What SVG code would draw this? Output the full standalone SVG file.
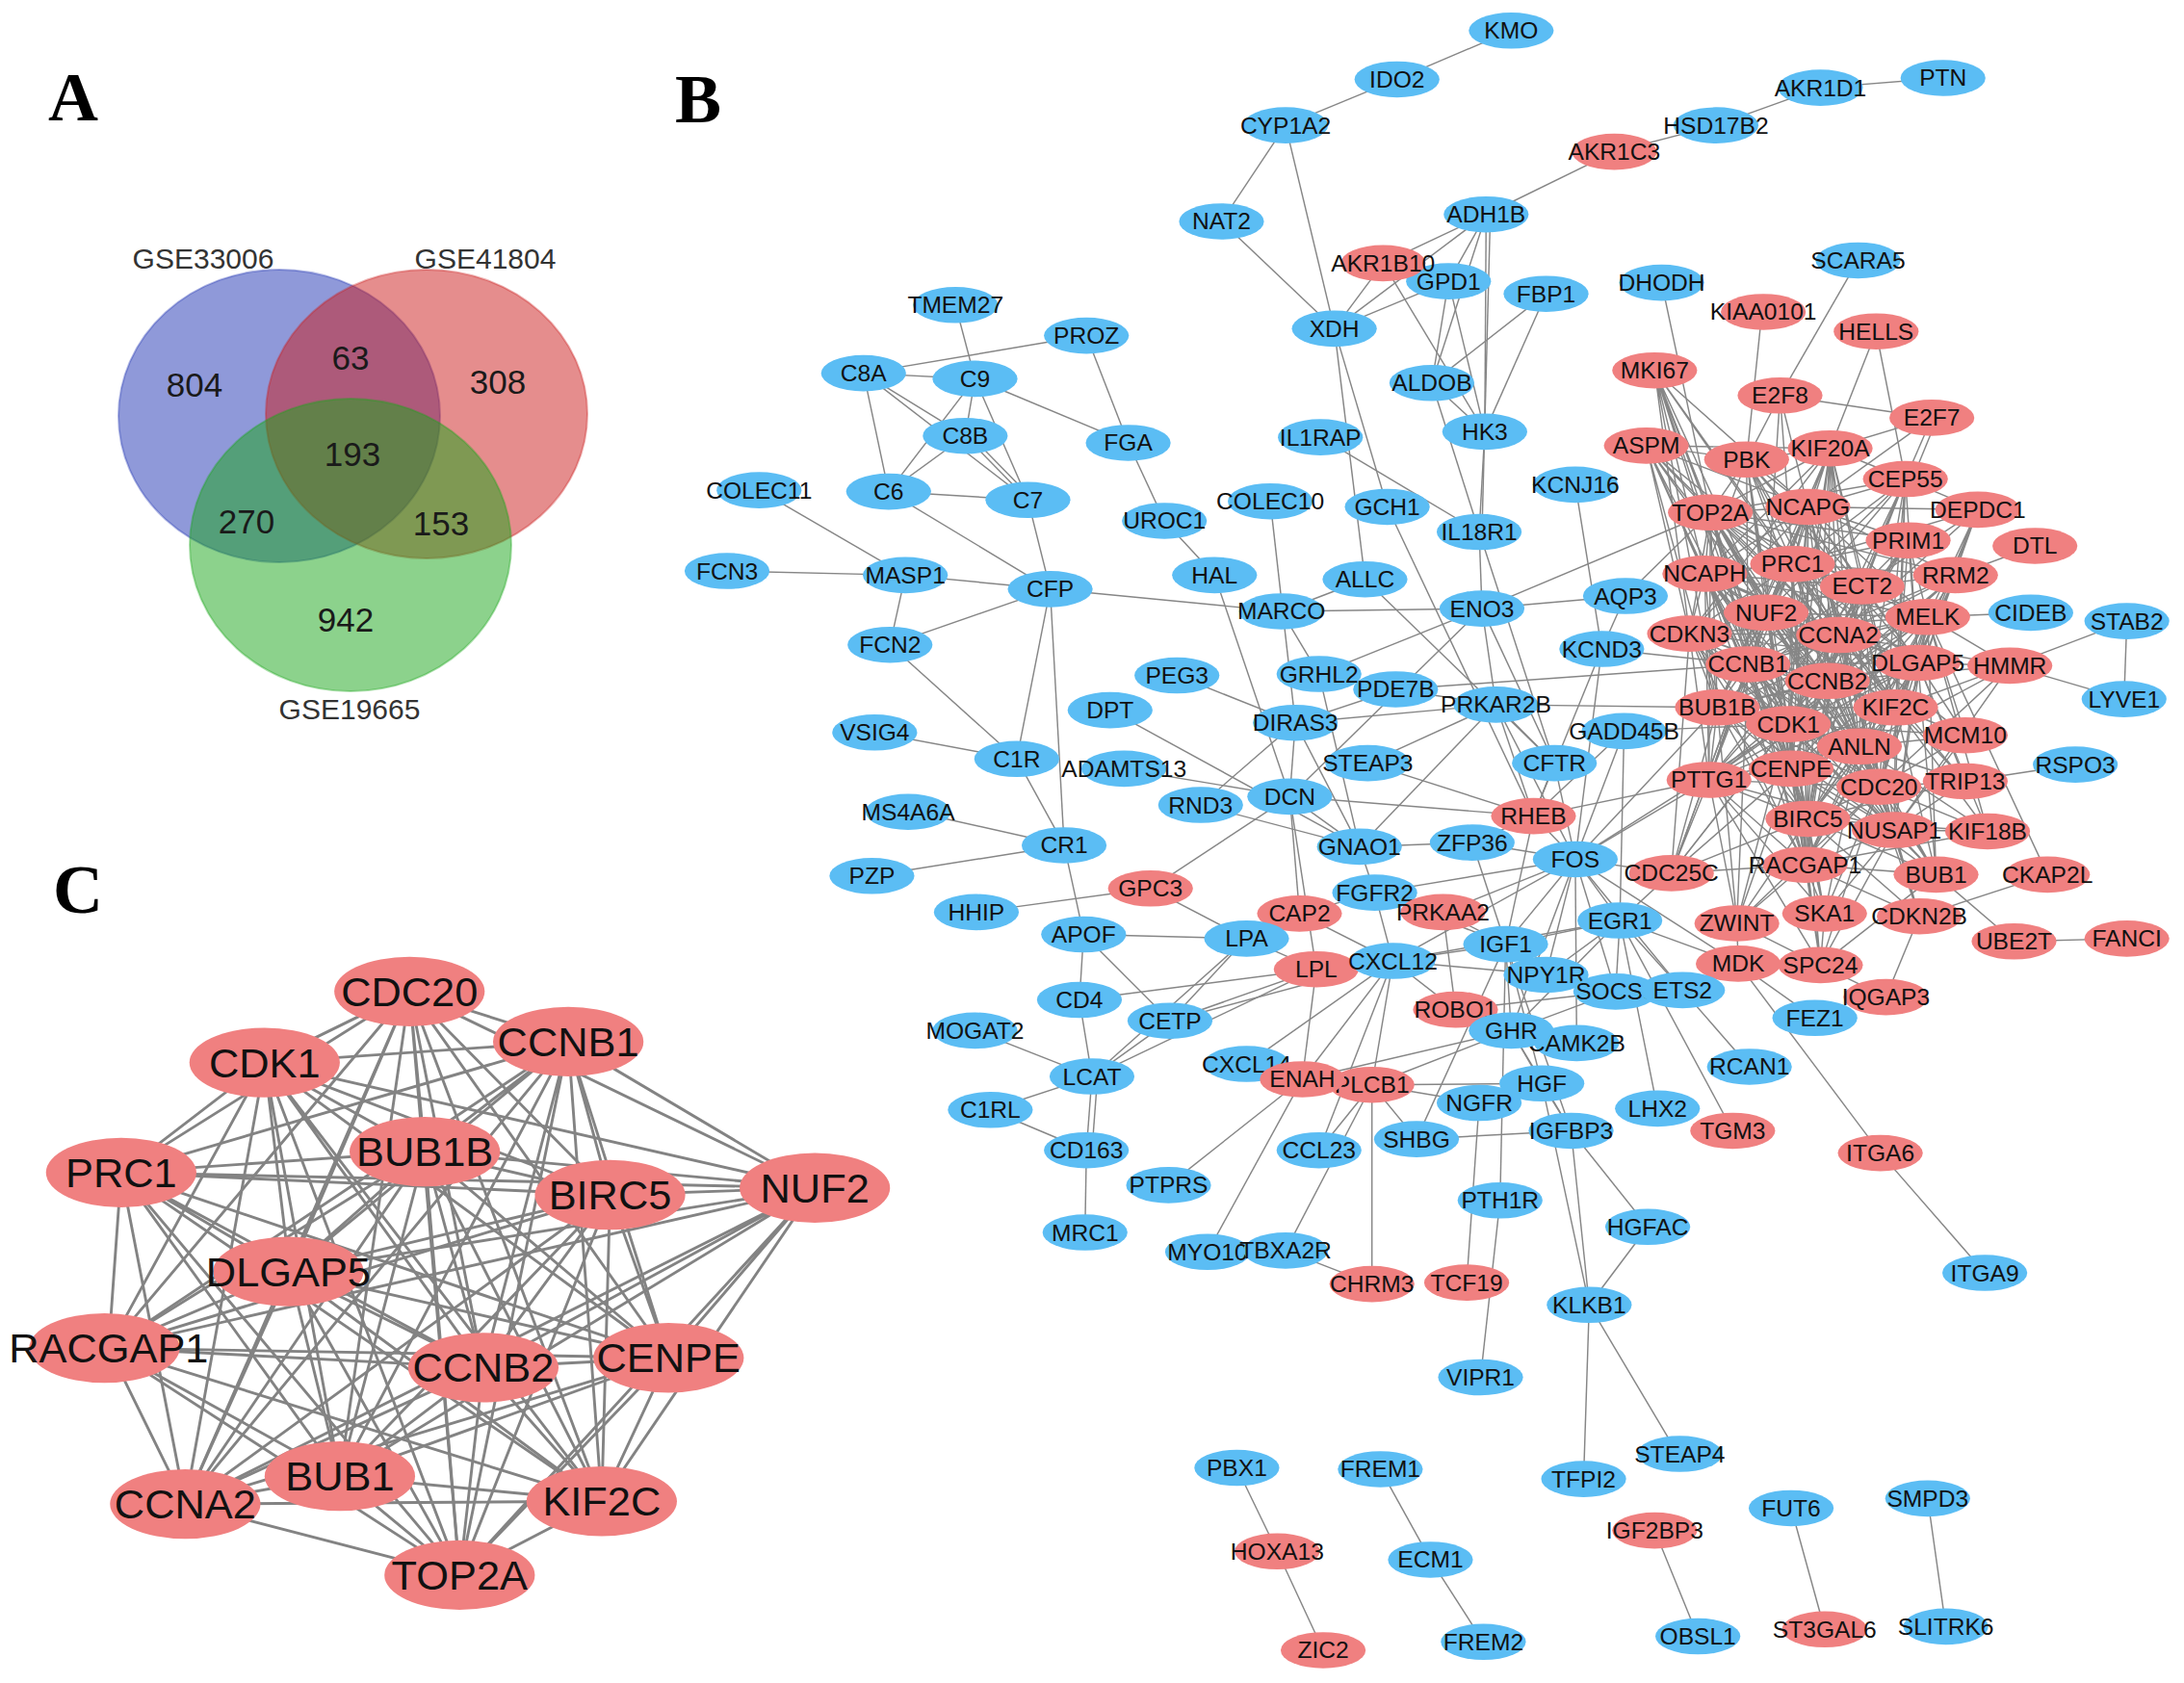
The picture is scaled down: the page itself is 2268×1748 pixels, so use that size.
<svg xmlns="http://www.w3.org/2000/svg" width="2268" height="1748" viewBox="0 0 2268 1748">
<style>
text{font-family:"Liberation Sans",Arial,sans-serif;text-anchor:middle;dominant-baseline:central;fill:#111}
.lab{font-family:"Liberation Serif","Times New Roman",serif;font-weight:bold;font-size:72px;fill:#000}
.vl{font-size:30px;fill:#333}
.vn{font-size:35px;fill:#1a1a1a}
.B text{font-size:17px}
.C text{font-size:30px}
.b ellipse{fill:#5bbdf4}
.r ellipse{fill:#f08080}
.e{stroke:#868686;stroke-width:1;fill:none}
.ce{stroke:#838383;stroke-width:2;fill:none}
</style>
<rect width="2268" height="1748" fill="#fff"/>
<text class="lab" x="76" y="101">A</text>
<text class="lab" x="725" y="103">B</text>
<text class="lab" x="81" y="924">C</text>
<g id="venn">
<ellipse cx="290" cy="432" rx="167" ry="152" fill="#1f33b3" fill-opacity="0.5" stroke="#1f33b3" stroke-opacity="0.35" stroke-width="2"/>
<ellipse cx="443" cy="430" rx="167" ry="150" fill="#cc1c1c" fill-opacity="0.5" stroke="#cc1c1c" stroke-opacity="0.35" stroke-width="2"/>
<ellipse cx="364" cy="566" rx="167" ry="152" fill="#1aa61a" fill-opacity="0.5" stroke="#1aa61a" stroke-opacity="0.35" stroke-width="2"/>
<text class="vl" x="211" y="268">GSE33006</text>
<text class="vl" x="504" y="268">GSE41804</text>
<text class="vl" x="363" y="736">GSE19665</text>
<text class="vn" x="202" y="399">804</text>
<text class="vn" x="364" y="371">63</text>
<text class="vn" x="517" y="396">308</text>
<text class="vn" x="366" y="471">193</text>
<text class="vn" x="256" y="541">270</text>
<text class="vn" x="458" y="543">153</text>
<text class="vn" x="359" y="643">942</text>
</g>
<g transform="scale(1.4464)">
<g id="edges-C" class="ce">
<path d="M294 712L408 748 294 712 190 763 294 712 305 827 294 712 87 842 294 712 438 858 294 712 585 853 294 712 208 913 294 712 78 968 294 712 347 982 294 712 480 975 294 712 244 1060 294 712 133 1080 294 712 432 1078 294 712 330 1131"/>
<path d="M408 748L190 763 408 748 305 827 408 748 87 842 408 748 438 858 408 748 585 853 408 748 208 913 408 748 78 968 408 748 347 982 408 748 480 975 408 748 244 1060 408 748 133 1080 408 748 432 1078 408 748 330 1131"/>
<path d="M190 763L305 827 190 763 87 842 190 763 438 858 190 763 585 853 190 763 208 913 190 763 78 968 190 763 347 982 190 763 480 975 190 763 244 1060 190 763 133 1080 190 763 432 1078 190 763 330 1131"/>
<path d="M305 827L87 842 305 827 438 858 305 827 585 853 305 827 208 913 305 827 78 968 305 827 347 982 305 827 480 975 305 827 244 1060 305 827 133 1080 305 827 432 1078 305 827 330 1131"/>
<path d="M87 842L438 858 87 842 585 853 87 842 208 913 87 842 78 968 87 842 347 982 87 842 480 975 87 842 244 1060 87 842 133 1080 87 842 432 1078 87 842 330 1131"/>
<path d="M438 858L585 853 438 858 208 913 438 858 78 968 438 858 347 982 438 858 480 975 438 858 244 1060 438 858 133 1080 438 858 432 1078 438 858 330 1131"/>
<path d="M585 853L208 913 585 853 78 968 585 853 347 982 585 853 480 975 585 853 244 1060 585 853 133 1080 585 853 432 1078 585 853 330 1131"/>
<path d="M208 913L78 968 208 913 347 982 208 913 480 975 208 913 244 1060 208 913 133 1080 208 913 432 1078 208 913 330 1131"/>
<path d="M78 968L347 982 78 968 480 975 78 968 244 1060 78 968 133 1080 78 968 432 1078 78 968 330 1131"/>
<path d="M347 982L480 975 347 982 244 1060 347 982 133 1080 347 982 432 1078 347 982 330 1131"/>
<path d="M480 975L244 1060 480 975 133 1080 480 975 432 1078 480 975 330 1131"/>
<path d="M244 1060L133 1080 244 1060 432 1078 244 1060 330 1131"/>
<path d="M133 1080L432 1078 133 1080 330 1131M432 1078L330 1131"/>
</g>
<g id="edges-B" class="e">
<path d="M1085 22 1003 57"/><path d="M1003 57 923 90"/><path d="M923 90 877 159"/><path d="M923 90 958 236"/><path d="M877 159 958 236"/>
<path d="M1395 56 1307 63"/><path d="M1307 63 1232 90"/><path d="M1232 90 1159 109"/><path d="M1159 109 1067 154"/>
<path d="M1067 154 993 189"/><path d="M1067 154 958 236"/><path d="M1067 154 1040 202"/><path d="M1067 154 1028 275"/><path d="M1067 154 1066 310"/><path d="M1070 154 1064 382"/>
<path d="M993 189 958 236"/><path d="M1040 202 958 236"/><path d="M993 189 1066 310"/><path d="M1040 202 1028 275"/><path d="M1040 202 1066 310"/>
<path d="M1110 211 1028 275"/><path d="M1110 211 1066 310"/><path d="M1028 275 1066 310"/><path d="M958 236 996 364"/><path d="M958 236 980 416"/>
<path d="M1028 275 1062 382"/><path d="M1066 310 1062 382"/><path d="M948 314 1062 382"/><path d="M1193 203 1228 368"/><path d="M1265 224 1254 330"/>
<path d="M1334 187 1278 284"/><path d="M1347 238 1314 322"/><path d="M1347 238 1368 344"/><path d="M1278 284 1387 300"/><path d="M1278 284 1298 364"/>
<path d="M1278 284 1254 330"/><path d="M1278 284 1287 405"/><path d="M1278 284 1268 440"/><path d="M1387 300 1368 344"/><path d="M1391 300 1373 344"/>
<path d="M1387 300 1298 364"/><path d="M1387 300 1314 322"/>
<path d="M686 219 700 272"/><path d="M780 241 620 268"/><path d="M780 241 810 318"/><path d="M620 268 700 272"/><path d="M620 268 693 313"/>
<path d="M620 268 738 359"/><path d="M620 268 638 353"/><path d="M700 272 693 313"/><path d="M700 272 638 353"/><path d="M700 272 738 359"/>
<path d="M700 272 810 318"/><path d="M693 313 638 353"/><path d="M693 313 738 359"/><path d="M697 313 742 359"/><path d="M638 353 738 359"/><path d="M638 353 754 423"/>
<path d="M738 359 754 423"/><path d="M810 318 836 374"/><path d="M836 374 872 413"/><path d="M545 352 650 413"/><path d="M522 410 650 413"/>
<path d="M650 413 754 423"/><path d="M650 413 639 463"/><path d="M639 463 754 423"/><path d="M639 463 730 545"/><path d="M754 423 730 545"/>
<path d="M754 423 764 607"/><path d="M754 423 920 439"/><path d="M628 526 730 545"/><path d="M730 545 764 607"/><path d="M652 582 764 607"/>
<path d="M626 629 764 607"/><path d="M764 607 778 671"/><path d="M701 655 826 638"/><path d="M826 638 895 674"/><path d="M826 638 926 572"/>
<path d="M778 671 895 674"/><path d="M778 671 775 718"/><path d="M778 671 840 733"/><path d="M775 718 784 773"/><path d="M775 718 945 696"/>
<path d="M840 733 784 773"/><path d="M840 733 895 674"/><path d="M840 733 945 696"/><path d="M840 733 1000 690"/><path d="M700 740 784 773"/>
<path d="M711 797 784 773"/><path d="M784 773 780 826"/><path d="M788 773 784 826"/><path d="M784 773 895 674"/><path d="M784 773 945 696"/>
<path d="M711 797 780 826"/><path d="M780 826 779 885"/><path d="M872 413 926 572"/><path d="M920 439 980 416"/><path d="M920 439 1064 437"/>
<path d="M920 439 947 484"/><path d="M912 360 930 519"/><path d="M845 485 930 519"/><path d="M797 510 976 608"/><path d="M806 552 926 572"/>
<path d="M862 578 976 608"/><path d="M862 578 930 519"/><path d="M930 519 1002 495"/><path d="M930 519 1074 506"/><path d="M930 519 926 572"/>
<path d="M930 519 976 608"/><path d="M947 484 1064 437"/><path d="M947 484 976 608"/><path d="M982 548 1074 506"/><path d="M982 548 1101 586"/>
<path d="M926 572 1101 586"/><path d="M926 572 976 608"/><path d="M926 572 933 656"/><path d="M926 572 945 696"/><path d="M976 608 1057 605"/>
<path d="M976 608 987 641"/><path d="M976 608 1074 506"/><path d="M987 641 933 656"/><path d="M987 641 1036 655"/><path d="M987 641 1000 690"/>
<path d="M987 641 1081 678"/><path d="M987 641 1131 617"/><path d="M895 674 945 696"/><path d="M895 674 933 656"/><path d="M1000 690 1081 678"/>
<path d="M1000 690 945 696"/><path d="M1000 690 1045 725"/><path d="M1000 690 935 775"/><path d="M1000 690 985 779"/><path d="M1000 690 895 764"/>
<path d="M1000 690 1110 700"/><path d="M1000 690 1163 661"/><path d="M1000 690 1131 617"/><path d="M1081 678 1128 812"/><path d="M1081 678 1085 740"/>
<path d="M1081 678 1163 661"/><path d="M1081 678 1131 617"/><path d="M1081 678 1107 778"/><path d="M1081 678 1160 712"/><path d="M1081 678 1077 862"/>
<path d="M1081 678 1036 655"/><path d="M1085 740 1160 712"/><path d="M1085 740 1128 812"/><path d="M1085 740 1107 778"/><path d="M1085 740 935 775"/>
<path d="M1085 740 985 779"/><path d="M1107 778 1062 792"/><path d="M1107 778 1128 812"/><path d="M1107 778 985 779"/><path d="M1128 812 1017 818"/>
<path d="M1128 812 1141 937"/><path d="M1128 812 1183 881"/><path d="M1183 881 1141 937"/><path d="M1141 937 1137 1061"/><path d="M1141 937 1204 1043"/>
<path d="M1107 778 1141 937"/><path d="M1077 862 1063 989"/><path d="M1062 792 1053 921"/><path d="M985 779 985 922"/><path d="M923 898 985 922"/>
<path d="M923 898 985 779"/><path d="M867 899 935 775"/><path d="M839 851 935 775"/><path d="M947 826 1000 690"/><path d="M1017 818 985 779"/>
<path d="M1017 818 1081 678"/><path d="M1190 796 1163 661"/><path d="M1256 766 1208 711"/><path d="M1244 812 1163 661"/><path d="M1350 828 1248 692"/>
<path d="M1350 828 1425 914"/><path d="M1303 731 1248 692"/><path d="M1354 716 1378 658"/><path d="M1354 716 1307 693"/><path d="M1248 692 1307 693"/>
<path d="M1248 692 1163 661"/><path d="M1248 692 1131 617"/><path d="M1248 692 1247 663"/><path d="M1446 676 1527 674"/><path d="M1446 676 1390 628"/>
<path d="M1470 628 1378 658"/><path d="M1470 628 1384 443"/><path d="M1443 478 1527 446"/><path d="M1443 478 1525 502"/><path d="M1527 446 1525 502"/>
<path d="M1384 443 1458 440"/><path d="M1411 561 1490 549"/><path d="M1404 413 1461 392"/><path d="M1131 348 1150 466"/><path d="M1167 428 1064 437"/>
<path d="M1167 428 1150 466"/><path d="M1167 428 1228 368"/><path d="M1064 437 1228 368"/><path d="M1062 382 1064 437"/><path d="M1062 382 1116 548"/>
<path d="M996 364 1101 586"/><path d="M980 416 1116 548"/><path d="M1064 437 1074 506"/><path d="M1064 437 1116 548"/><path d="M1064 437 926 572"/>
<path d="M1150 466 1131 617"/><path d="M1150 466 1255 477"/><path d="M1150 466 1101 586"/><path d="M1166 525 1131 617"/><path d="M1166 525 1101 586"/>
<path d="M1166 525 1284 520"/><path d="M1166 525 1163 661"/><path d="M1074 506 1116 548"/><path d="M1074 506 1233 508"/><path d="M1074 506 1101 586"/>
<path d="M1074 506 1131 617"/><path d="M1074 506 1002 495"/><path d="M1002 495 1255 477"/><path d="M1116 548 1101 586"/><path d="M1116 548 1131 617"/>
<path d="M1101 586 1131 617"/><path d="M1101 586 1227 560"/><path d="M1101 586 1081 678"/><path d="M1101 586 1057 605"/><path d="M1131 617 1163 661"/>
<path d="M1131 617 1200 627"/><path d="M1131 617 1057 605"/><path d="M1131 617 1085 740"/><path d="M1131 617 1208 711"/><path d="M1131 617 1160 712"/>
<path d="M1131 617 1110 700"/><path d="M1131 617 1227 560"/><path d="M1131 617 1233 508"/><path d="M1131 617 1284 520"/><path d="M1163 661 1208 711"/>
<path d="M1163 661 1200 627"/><path d="M1163 661 1160 712"/><path d="M1163 661 1085 740"/><path d="M1163 661 1110 700"/><path d="M1200 627 1284 520"/>
<path d="M1200 627 1255 477"/><path d="M1057 605 1081 678"/><path d="M933 656 1000 690"/><path d="M1036 655 1131 617"/><path d="M1036 655 1045 725"/>
<path d="M1045 725 1160 712"/><path d="M985 779 1062 792"/><path d="M935 775 945 696"/><path d="M947 826 985 779"/><path d="M1160 712 1208 711"/>
<path d="M1132 749 1131 617"/><path d="M888 1054 917 1114"/><path d="M917 1114 950 1185"/><path d="M991 1055 1027 1120"/><path d="M1027 1120 1065 1179"/>
<path d="M1188 1099 1219 1175"/><path d="M1286 1083 1310 1170"/><path d="M1384 1076 1397 1168"/>
<path d="M1228 368L1298 364 1228 368 1287 405 1228 368 1224 412 1228 368 1337 421 1228 368 1268 440 1228 368 1320 456 1228 368 1213 455 1228 368 1255 477 1228 368 1377 476 1228 368 1312 489 1228 368 1361 508 1228 368 1233 508 1228 368 1284 520 1228 368 1335 536 1228 368 1286 552 1228 368 1349 565 1228 368 1298 588 1228 368 1360 596 1228 368 1296 621 1228 368 1227 560 1228 368 1384 443"/>
<path d="M1298 364L1287 405 1298 364 1224 412 1298 364 1337 421 1298 364 1268 440 1298 364 1320 456 1298 364 1213 455 1298 364 1255 477 1298 364 1377 476 1298 364 1312 489 1298 364 1361 508 1298 364 1233 508 1298 364 1284 520 1298 364 1335 536 1298 364 1286 552 1298 364 1349 565 1298 364 1298 588 1298 364 1360 596 1298 364 1296 621 1298 364 1227 560 1298 364 1384 443"/>
<path d="M1287 405L1224 412 1287 405 1337 421 1287 405 1268 440 1287 405 1320 456 1287 405 1213 455 1287 405 1255 477 1287 405 1377 476 1287 405 1312 489 1287 405 1361 508 1287 405 1233 508 1287 405 1284 520 1287 405 1335 536 1287 405 1286 552 1287 405 1349 565 1287 405 1298 588 1287 405 1360 596 1287 405 1296 621 1287 405 1227 560 1287 405 1384 443"/>
<path d="M1224 412L1337 421 1224 412 1268 440 1224 412 1320 456 1224 412 1213 455 1224 412 1255 477 1224 412 1377 476 1224 412 1312 489 1224 412 1361 508 1224 412 1233 508 1224 412 1284 520 1224 412 1335 536 1224 412 1286 552 1224 412 1349 565 1224 412 1298 588 1224 412 1360 596 1224 412 1296 621 1224 412 1227 560 1224 412 1384 443"/>
<path d="M1337 421L1268 440 1337 421 1320 456 1337 421 1213 455 1337 421 1255 477 1337 421 1377 476 1337 421 1312 489 1337 421 1361 508 1337 421 1233 508 1337 421 1284 520 1337 421 1335 536 1337 421 1286 552 1337 421 1349 565 1337 421 1298 588 1337 421 1360 596 1337 421 1296 621 1337 421 1227 560 1337 421 1384 443"/>
<path d="M1268 440L1320 456 1268 440 1213 455 1268 440 1255 477 1268 440 1377 476 1268 440 1312 489 1268 440 1361 508 1268 440 1233 508 1268 440 1284 520 1268 440 1335 536 1268 440 1286 552 1268 440 1349 565 1268 440 1298 588 1268 440 1360 596 1268 440 1296 621 1268 440 1227 560 1268 440 1384 443"/>
<path d="M1320 456L1213 455 1320 456 1255 477 1320 456 1377 476 1320 456 1312 489 1320 456 1361 508 1320 456 1233 508 1320 456 1284 520 1320 456 1335 536 1320 456 1286 552 1320 456 1349 565 1320 456 1298 588 1320 456 1360 596 1320 456 1296 621 1320 456 1227 560 1320 456 1384 443"/>
<path d="M1213 455L1255 477 1213 455 1377 476 1213 455 1312 489 1213 455 1361 508 1213 455 1233 508 1213 455 1284 520 1213 455 1335 536 1213 455 1286 552 1213 455 1349 565 1213 455 1298 588 1213 455 1360 596 1213 455 1296 621 1213 455 1227 560 1213 455 1384 443"/>
<path d="M1255 477L1377 476 1255 477 1312 489 1255 477 1361 508 1255 477 1233 508 1255 477 1284 520 1255 477 1335 536 1255 477 1286 552 1255 477 1349 565 1255 477 1298 588 1255 477 1360 596 1255 477 1296 621 1255 477 1227 560 1255 477 1384 443"/>
<path d="M1377 476L1312 489 1377 476 1361 508 1377 476 1233 508 1377 476 1284 520 1377 476 1335 536 1377 476 1286 552 1377 476 1349 565 1377 476 1298 588 1377 476 1360 596 1377 476 1296 621 1377 476 1227 560 1377 476 1384 443"/>
<path d="M1312 489L1361 508 1312 489 1233 508 1312 489 1284 520 1312 489 1335 536 1312 489 1286 552 1312 489 1349 565 1312 489 1298 588 1312 489 1360 596 1312 489 1296 621 1312 489 1227 560 1312 489 1384 443"/>
<path d="M1361 508L1233 508 1361 508 1284 520 1361 508 1335 536 1361 508 1286 552 1361 508 1349 565 1361 508 1298 588 1361 508 1360 596 1361 508 1296 621 1361 508 1227 560 1361 508 1384 443"/>
<path d="M1233 508L1284 520 1233 508 1335 536 1233 508 1286 552 1233 508 1349 565 1233 508 1298 588 1233 508 1360 596 1233 508 1296 621 1233 508 1227 560 1233 508 1384 443"/>
<path d="M1284 520L1335 536 1284 520 1286 552 1284 520 1349 565 1284 520 1298 588 1284 520 1360 596 1284 520 1296 621 1284 520 1227 560 1284 520 1384 443"/>
<path d="M1335 536L1286 552 1335 536 1349 565 1335 536 1298 588 1335 536 1360 596 1335 536 1296 621 1335 536 1227 560 1335 536 1384 443"/>
<path d="M1286 552L1349 565 1286 552 1298 588 1286 552 1360 596 1286 552 1296 621 1286 552 1227 560 1286 552 1384 443"/>
<path d="M1349 565L1298 588 1349 565 1360 596 1349 565 1296 621 1349 565 1227 560 1349 565 1384 443"/>
<path d="M1298 588L1360 596 1298 588 1296 621 1298 588 1227 560 1298 588 1384 443M1360 596L1296 621 1360 596 1227 560 1360 596 1384 443M1296 621L1227 560 1296 621 1384 443M1227 560L1384 443"/>
<path d="M1188 266L1228 368 1188 266 1298 364 1188 266 1287 405 1188 266 1224 412 1188 266 1268 440 1188 266 1320 456 1188 266 1213 455 1188 266 1255 477 1188 266 1233 508 1188 266 1284 520 1188 266 1286 552"/>
<path d="M1182 320L1228 368 1182 320 1298 364 1182 320 1287 405 1182 320 1224 412 1182 320 1268 440 1182 320 1320 456 1182 320 1213 455 1182 320 1255 477 1182 320 1312 489 1182 320 1233 508 1182 320 1284 520 1182 320 1286 552 1182 320 1254 330 1182 320 1314 322"/>
<path d="M1254 330L1228 368 1254 330 1298 364 1254 330 1287 405 1254 330 1224 412 1254 330 1337 421 1254 330 1268 440 1254 330 1320 456 1254 330 1255 477 1254 330 1377 476 1254 330 1312 489 1254 330 1361 508 1254 330 1284 520 1254 330 1286 552 1254 330 1314 322"/>
<path d="M1314 322L1228 368 1314 322 1298 364 1314 322 1287 405 1314 322 1224 412 1314 322 1337 421 1314 322 1268 440 1314 322 1320 456 1314 322 1213 455 1314 322 1255 477 1314 322 1312 489 1314 322 1361 508 1314 322 1233 508 1314 322 1284 520 1314 322 1335 536 1314 322 1286 552 1314 322 1349 565 1314 322 1298 588"/>
<path d="M1368 344L1228 368 1368 344 1298 364 1368 344 1287 405 1368 344 1337 421 1368 344 1268 440 1368 344 1320 456 1368 344 1255 477 1368 344 1377 476 1368 344 1312 489 1368 344 1361 508 1368 344 1284 520 1368 344 1335 536 1368 344 1286 552 1368 344 1349 565 1368 344 1360 596 1368 344 1314 322 1368 344 1420 366"/>
<path d="M1420 366L1298 364 1420 366 1287 405 1420 366 1337 421 1420 366 1320 456 1420 366 1377 476 1420 366 1361 508 1420 366 1349 565 1420 366 1384 443"/>
<path d="M1370 388L1228 368 1370 388 1298 364 1370 388 1287 405 1370 388 1337 421 1370 388 1320 456 1370 388 1377 476 1370 388 1312 489 1370 388 1361 508 1370 388 1284 520 1370 388 1384 443"/>
<path d="M1404 413L1228 368 1404 413 1298 364 1404 413 1287 405 1404 413 1337 421 1404 413 1320 456 1404 413 1255 477 1404 413 1377 476 1404 413 1312 489 1404 413 1361 508 1404 413 1284 520 1404 413 1349 565 1404 413 1384 443"/>
<path d="M1443 478L1320 456 1443 478 1377 476 1443 478 1312 489 1443 478 1361 508 1443 478 1335 536 1443 478 1349 565 1443 478 1360 596 1443 478 1384 443"/>
<path d="M1411 528L1320 456 1411 528 1377 476 1411 528 1312 489 1411 528 1361 508 1411 528 1284 520 1411 528 1335 536 1411 528 1349 565 1411 528 1360 596 1411 528 1384 443"/>
<path d="M1411 561L1320 456 1411 561 1377 476 1411 561 1361 508 1411 561 1284 520 1411 561 1335 536 1411 561 1349 565 1411 561 1298 588 1411 561 1360 596"/>
<path d="M1427 597L1377 476 1427 597 1361 508 1427 597 1335 536 1427 597 1349 565 1427 597 1298 588 1427 597 1360 596 1427 597 1296 621 1427 597 1384 443"/>
<path d="M1390 628L1377 476 1390 628 1312 489 1390 628 1361 508 1390 628 1284 520 1390 628 1335 536 1390 628 1286 552 1390 628 1349 565 1390 628 1298 588 1390 628 1360 596 1390 628 1296 621 1390 628 1384 443"/>
<path d="M1247 663L1255 477 1247 663 1233 508 1247 663 1284 520 1247 663 1286 552 1247 663 1349 565 1247 663 1298 588 1247 663 1296 621 1247 663 1227 560"/>
<path d="M1310 656L1284 520 1310 656 1335 536 1310 656 1286 552 1310 656 1349 565 1310 656 1298 588 1310 656 1360 596 1310 656 1296 621 1310 656 1227 560"/>
<path d="M1378 658L1335 536 1378 658 1349 565 1378 658 1298 588 1378 658 1360 596 1378 658 1296 621"/>
<path d="M1307 693L1284 520 1307 693 1286 552 1307 693 1349 565 1307 693 1298 588 1307 693 1360 596 1307 693 1296 621 1307 693 1227 560 1307 693 1247 663 1307 693 1310 656 1307 693 1390 628"/>
<path d="M1200 627L1213 455 1200 627 1255 477 1200 627 1233 508 1200 627 1284 520 1200 627 1286 552 1200 627 1298 588 1200 627 1296 621 1200 627 1227 560"/>
</g>
<g class="C">
<g id="c-CDC20" class="r"><ellipse cx="294" cy="712" rx="54" ry="25"/><text x="294" y="712">CDC20</text></g>
<g id="c-CCNB1" class="r"><ellipse cx="408" cy="748" rx="54" ry="25"/><text x="408" y="748">CCNB1</text></g>
<g id="c-CDK1" class="r"><ellipse cx="190" cy="763" rx="54" ry="25"/><text x="190" y="763">CDK1</text></g>
<g id="c-BUB1B" class="r"><ellipse cx="305" cy="827" rx="54" ry="25"/><text x="305" y="827">BUB1B</text></g>
<g id="c-PRC1" class="r"><ellipse cx="87" cy="842" rx="54" ry="25"/><text x="87" y="842">PRC1</text></g>
<g id="c-BIRC5" class="r"><ellipse cx="438" cy="858" rx="54" ry="25"/><text x="438" y="858">BIRC5</text></g>
<g id="c-NUF2" class="r"><ellipse cx="585" cy="853" rx="54" ry="25"/><text x="585" y="853">NUF2</text></g>
<g id="c-DLGAP5" class="r"><ellipse cx="207" cy="913" rx="54" ry="25"/><text x="207" y="913">DLGAP5</text></g>
<g id="c-RACGAP1" class="r"><ellipse cx="75" cy="968" rx="54" ry="25"/><text x="78" y="968">RACGAP1</text></g>
<g id="c-CCNB2" class="r"><ellipse cx="347" cy="982" rx="54" ry="25"/><text x="347" y="982">CCNB2</text></g>
<g id="c-CENPE" class="r"><ellipse cx="480" cy="975" rx="54" ry="25"/><text x="480" y="975">CENPE</text></g>
<g id="c-BUB1" class="r"><ellipse cx="244" cy="1060" rx="54" ry="25"/><text x="244" y="1060">BUB1</text></g>
<g id="c-CCNA2" class="r"><ellipse cx="133" cy="1080" rx="54" ry="25"/><text x="133" y="1080">CCNA2</text></g>
<g id="c-KIF2C" class="r"><ellipse cx="432" cy="1078" rx="54" ry="25"/><text x="432" y="1078">KIF2C</text></g>
<g id="c-TOP2A" class="r"><ellipse cx="330" cy="1131" rx="54" ry="25"/><text x="330" y="1131">TOP2A</text></g>
</g>
<g class="B">
<g id="n-KMO" class="b"><ellipse cx="1085" cy="22" rx="30.5" ry="13"/><text x="1085" y="22">KMO</text></g>
<g id="n-IDO2" class="b"><ellipse cx="1003" cy="57" rx="30.5" ry="13"/><text x="1003" y="57">IDO2</text></g>
<g id="n-AKR1D1" class="b"><ellipse cx="1307" cy="63" rx="30.5" ry="13"/><text x="1307" y="63">AKR1D1</text></g>
<g id="n-PTN" class="b"><ellipse cx="1395" cy="56" rx="30.5" ry="13"/><text x="1395" y="56">PTN</text></g>
<g id="n-CYP1A2" class="b"><ellipse cx="923" cy="90" rx="30.5" ry="13"/><text x="923" y="90">CYP1A2</text></g>
<g id="n-HSD17B2" class="b"><ellipse cx="1232" cy="90" rx="30.5" ry="13"/><text x="1232" y="90">HSD17B2</text></g>
<g id="n-AKR1C3" class="r"><ellipse cx="1159" cy="109" rx="30.5" ry="13"/><text x="1159" y="109">AKR1C3</text></g>
<g id="n-NAT2" class="b"><ellipse cx="877" cy="159" rx="30.5" ry="13"/><text x="877" y="159">NAT2</text></g>
<g id="n-ADH1B" class="b"><ellipse cx="1067" cy="154" rx="30.5" ry="13"/><text x="1067" y="154">ADH1B</text></g>
<g id="n-GPD1" class="b"><ellipse cx="1040" cy="202" rx="30.5" ry="13"/><text x="1040" y="202">GPD1</text></g>
<g id="n-AKR1B10" class="r"><ellipse cx="993" cy="189" rx="30.5" ry="13"/><text x="993" y="189">AKR1B10</text></g>
<g id="n-FBP1" class="b"><ellipse cx="1110" cy="211" rx="30.5" ry="13"/><text x="1110" y="211">FBP1</text></g>
<g id="n-DHODH" class="b"><ellipse cx="1193" cy="203" rx="30.5" ry="13"/><text x="1193" y="203">DHODH</text></g>
<g id="n-SCARA5" class="b"><ellipse cx="1334" cy="187" rx="30.5" ry="13"/><text x="1334" y="187">SCARA5</text></g>
<g id="n-KIAA0101" class="r"><ellipse cx="1266" cy="224" rx="30.5" ry="13"/><text x="1266" y="224">KIAA0101</text></g>
<g id="n-HELLS" class="r"><ellipse cx="1347" cy="238" rx="30.5" ry="13"/><text x="1347" y="238">HELLS</text></g>
<g id="n-XDH" class="b"><ellipse cx="958" cy="236" rx="30.5" ry="13"/><text x="958" y="236">XDH</text></g>
<g id="n-TMEM27" class="b"><ellipse cx="686" cy="219" rx="30.5" ry="13"/><text x="686" y="219">TMEM27</text></g>
<g id="n-PROZ" class="b"><ellipse cx="780" cy="241" rx="30.5" ry="13"/><text x="780" y="241">PROZ</text></g>
<g id="n-C8A" class="b"><ellipse cx="620" cy="268" rx="30.5" ry="13"/><text x="620" y="268">C8A</text></g>
<g id="n-C9" class="b"><ellipse cx="700" cy="272" rx="30.5" ry="13"/><text x="700" y="272">C9</text></g>
<g id="n-MKI67" class="r"><ellipse cx="1188" cy="266" rx="30.5" ry="13"/><text x="1188" y="266">MKI67</text></g>
<g id="n-ALDOB" class="b"><ellipse cx="1028" cy="275" rx="30.5" ry="13"/><text x="1028" y="275">ALDOB</text></g>
<g id="n-E2F8" class="r"><ellipse cx="1278" cy="284" rx="30.5" ry="13"/><text x="1278" y="284">E2F8</text></g>
<g id="n-E2F7" class="r"><ellipse cx="1387" cy="300" rx="30.5" ry="13"/><text x="1387" y="300">E2F7</text></g>
<g id="n-C8B" class="b"><ellipse cx="693" cy="313" rx="30.5" ry="13"/><text x="693" y="313">C8B</text></g>
<g id="n-FGA" class="b"><ellipse cx="810" cy="318" rx="30.5" ry="13"/><text x="810" y="318">FGA</text></g>
<g id="n-IL1RAP" class="b"><ellipse cx="948" cy="314" rx="30.5" ry="13"/><text x="948" y="314">IL1RAP</text></g>
<g id="n-HK3" class="b"><ellipse cx="1066" cy="310" rx="30.5" ry="13"/><text x="1066" y="310">HK3</text></g>
<g id="n-ASPM" class="r"><ellipse cx="1182" cy="320" rx="30.5" ry="13"/><text x="1182" y="320">ASPM</text></g>
<g id="n-PBK" class="r"><ellipse cx="1254" cy="330" rx="30.5" ry="13"/><text x="1254" y="330">PBK</text></g>
<g id="n-KIF20A" class="r"><ellipse cx="1314" cy="322" rx="30.5" ry="13"/><text x="1314" y="322">KIF20A</text></g>
<g id="n-CEP55" class="r"><ellipse cx="1368" cy="344" rx="30.5" ry="13"/><text x="1368" y="344">CEP55</text></g>
<g id="n-C6" class="b"><ellipse cx="638" cy="353" rx="30.5" ry="13"/><text x="638" y="353">C6</text></g>
<g id="n-C7" class="b"><ellipse cx="738" cy="359" rx="30.5" ry="13"/><text x="738" y="359">C7</text></g>
<g id="n-COLEC11" class="b"><ellipse cx="545" cy="352" rx="30.5" ry="13"/><text x="545" y="352">COLEC11</text></g>
<g id="n-COLEC10" class="b"><ellipse cx="912" cy="360" rx="30.5" ry="13"/><text x="912" y="360">COLEC10</text></g>
<g id="n-GCH1" class="b"><ellipse cx="996" cy="364" rx="30.5" ry="13"/><text x="996" y="364">GCH1</text></g>
<g id="n-KCNJ16" class="b"><ellipse cx="1131" cy="348" rx="30.5" ry="13"/><text x="1131" y="348">KCNJ16</text></g>
<g id="n-TOP2A" class="r"><ellipse cx="1228" cy="368" rx="30.5" ry="13"/><text x="1228" y="368">TOP2A</text></g>
<g id="n-NCAPG" class="r"><ellipse cx="1298" cy="364" rx="30.5" ry="13"/><text x="1298" y="364">NCAPG</text></g>
<g id="n-DEPDC1" class="r"><ellipse cx="1420" cy="366" rx="30.5" ry="13"/><text x="1420" y="366">DEPDC1</text></g>
<g id="n-UROC1" class="b"><ellipse cx="836" cy="374" rx="30.5" ry="13"/><text x="836" y="374">UROC1</text></g>
<g id="n-IL18R1" class="b"><ellipse cx="1062" cy="382" rx="30.5" ry="13"/><text x="1062" y="382">IL18R1</text></g>
<g id="n-PRIM1" class="r"><ellipse cx="1370" cy="388" rx="30.5" ry="13"/><text x="1370" y="388">PRIM1</text></g>
<g id="n-DTL" class="r"><ellipse cx="1461" cy="392" rx="30.5" ry="13"/><text x="1461" y="392">DTL</text></g>
<g id="n-HAL" class="b"><ellipse cx="872" cy="413" rx="30.5" ry="13"/><text x="872" y="413">HAL</text></g>
<g id="n-FCN3" class="b"><ellipse cx="522" cy="410" rx="30.5" ry="13"/><text x="522" y="410">FCN3</text></g>
<g id="n-MASP1" class="b"><ellipse cx="650" cy="413" rx="30.5" ry="13"/><text x="650" y="413">MASP1</text></g>
<g id="n-CFP" class="b"><ellipse cx="754" cy="423" rx="30.5" ry="13"/><text x="754" y="423">CFP</text></g>
<g id="n-ALLC" class="b"><ellipse cx="980" cy="416" rx="30.5" ry="13"/><text x="980" y="416">ALLC</text></g>
<g id="n-NCAPH" class="r"><ellipse cx="1224" cy="412" rx="30.5" ry="13"/><text x="1224" y="412">NCAPH</text></g>
<g id="n-PRC1" class="r"><ellipse cx="1287" cy="405" rx="30.5" ry="13"/><text x="1287" y="405">PRC1</text></g>
<g id="n-ECT2" class="r"><ellipse cx="1337" cy="421" rx="30.5" ry="13"/><text x="1337" y="421">ECT2</text></g>
<g id="n-RRM2" class="r"><ellipse cx="1404" cy="413" rx="30.5" ry="13"/><text x="1404" y="413">RRM2</text></g>
<g id="n-MARCO" class="b"><ellipse cx="920" cy="439" rx="30.5" ry="13"/><text x="920" y="439">MARCO</text></g>
<g id="n-ENO3" class="b"><ellipse cx="1064" cy="437" rx="30.5" ry="13"/><text x="1064" y="437">ENO3</text></g>
<g id="n-AQP3" class="b"><ellipse cx="1167" cy="428" rx="30.5" ry="13"/><text x="1167" y="428">AQP3</text></g>
<g id="n-NUF2" class="r"><ellipse cx="1268" cy="440" rx="30.5" ry="13"/><text x="1268" y="440">NUF2</text></g>
<g id="n-CIDEB" class="b"><ellipse cx="1458" cy="440" rx="30.5" ry="13"/><text x="1458" y="440">CIDEB</text></g>
<g id="n-STAB2" class="b"><ellipse cx="1527" cy="446" rx="30.5" ry="13"/><text x="1527" y="446">STAB2</text></g>
<g id="n-MELK" class="r"><ellipse cx="1384" cy="443" rx="30.5" ry="13"/><text x="1384" y="443">MELK</text></g>
<g id="n-CCNA2" class="r"><ellipse cx="1320" cy="456" rx="30.5" ry="13"/><text x="1320" y="456">CCNA2</text></g>
<g id="n-CDKN3" class="r"><ellipse cx="1213" cy="455" rx="30.5" ry="13"/><text x="1213" y="455">CDKN3</text></g>
<g id="n-KCND3" class="b"><ellipse cx="1150" cy="466" rx="30.5" ry="13"/><text x="1150" y="466">KCND3</text></g>
<g id="n-FCN2" class="b"><ellipse cx="639" cy="463" rx="30.5" ry="13"/><text x="639" y="463">FCN2</text></g>
<g id="n-CCNB1" class="r"><ellipse cx="1255" cy="477" rx="30.5" ry="13"/><text x="1255" y="477">CCNB1</text></g>
<g id="n-DLGAP5" class="r"><ellipse cx="1377" cy="476" rx="30.5" ry="13"/><text x="1377" y="476">DLGAP5</text></g>
<g id="n-HMMR" class="r"><ellipse cx="1443" cy="478" rx="30.5" ry="13"/><text x="1443" y="478">HMMR</text></g>
<g id="n-CCNB2" class="r"><ellipse cx="1312" cy="489" rx="30.5" ry="13"/><text x="1312" y="489">CCNB2</text></g>
<g id="n-PEG3" class="b"><ellipse cx="845" cy="485" rx="30.5" ry="13"/><text x="845" y="485">PEG3</text></g>
<g id="n-PDE7B" class="b"><ellipse cx="1002" cy="495" rx="30.5" ry="13"/><text x="1002" y="495">PDE7B</text></g>
<g id="n-GRHL2" class="b"><ellipse cx="947" cy="484" rx="30.5" ry="13"/><text x="947" y="484">GRHL2</text></g>
<g id="n-PRKAR2B" class="b"><ellipse cx="1074" cy="506" rx="30.5" ry="13"/><text x="1074" y="506">PRKAR2B</text></g>
<g id="n-LYVE1" class="b"><ellipse cx="1525" cy="502" rx="30.5" ry="13"/><text x="1525" y="502">LYVE1</text></g>
<g id="n-KIF2C" class="r"><ellipse cx="1361" cy="508" rx="30.5" ry="13"/><text x="1361" y="508">KIF2C</text></g>
<g id="n-BUB1B" class="r"><ellipse cx="1233" cy="508" rx="30.5" ry="13"/><text x="1233" y="508">BUB1B</text></g>
<g id="n-CDK1" class="r"><ellipse cx="1284" cy="520" rx="30.5" ry="13"/><text x="1284" y="520">CDK1</text></g>
<g id="n-DPT" class="b"><ellipse cx="797" cy="510" rx="30.5" ry="13"/><text x="797" y="510">DPT</text></g>
<g id="n-DIRAS3" class="b"><ellipse cx="930" cy="519" rx="30.5" ry="13"/><text x="930" y="519">DIRAS3</text></g>
<g id="n-GADD45B" class="b"><ellipse cx="1166" cy="525" rx="30.5" ry="13"/><text x="1166" y="525">GADD45B</text></g>
<g id="n-VSIG4" class="b"><ellipse cx="628" cy="526" rx="30.5" ry="13"/><text x="628" y="526">VSIG4</text></g>
<g id="n-MCM10" class="r"><ellipse cx="1411" cy="528" rx="30.5" ry="13"/><text x="1411" y="528">MCM10</text></g>
<g id="n-ANLN" class="r"><ellipse cx="1335" cy="536" rx="30.5" ry="13"/><text x="1335" y="536">ANLN</text></g>
<g id="n-C1R" class="b"><ellipse cx="730" cy="545" rx="30.5" ry="13"/><text x="730" y="545">C1R</text></g>
<g id="n-ADAMTS13" class="b"><ellipse cx="807" cy="552" rx="30.5" ry="13"/><text x="807" y="552">ADAMTS13</text></g>
<g id="n-STEAP3" class="b"><ellipse cx="982" cy="548" rx="30.5" ry="13"/><text x="982" y="548">STEAP3</text></g>
<g id="n-CFTR" class="b"><ellipse cx="1116" cy="548" rx="30.5" ry="13"/><text x="1116" y="548">CFTR</text></g>
<g id="n-CENPE" class="r"><ellipse cx="1286" cy="552" rx="30.5" ry="13"/><text x="1286" y="552">CENPE</text></g>
<g id="n-PTTG1" class="r"><ellipse cx="1227" cy="560" rx="30.5" ry="13"/><text x="1227" y="560">PTTG1</text></g>
<g id="n-CDC20" class="r"><ellipse cx="1349" cy="565" rx="30.5" ry="13"/><text x="1349" y="565">CDC20</text></g>
<g id="n-TRIP13" class="r"><ellipse cx="1411" cy="561" rx="30.5" ry="13"/><text x="1411" y="561">TRIP13</text></g>
<g id="n-RSPO3" class="b"><ellipse cx="1490" cy="549" rx="30.5" ry="13"/><text x="1490" y="549">RSPO3</text></g>
<g id="n-DCN" class="b"><ellipse cx="926" cy="572" rx="30.5" ry="13"/><text x="926" y="572">DCN</text></g>
<g id="n-RND3" class="b"><ellipse cx="862" cy="578" rx="30.5" ry="13"/><text x="862" y="578">RND3</text></g>
<g id="n-MS4A6A" class="b"><ellipse cx="652" cy="583" rx="30.5" ry="13"/><text x="652" y="583">MS4A6A</text></g>
<g id="n-RHEB" class="r"><ellipse cx="1101" cy="586" rx="30.5" ry="13"/><text x="1101" y="586">RHEB</text></g>
<g id="n-BIRC5" class="r"><ellipse cx="1298" cy="588" rx="30.5" ry="13"/><text x="1298" y="588">BIRC5</text></g>
<g id="n-NUSAP1" class="r"><ellipse cx="1360" cy="596" rx="30.5" ry="13"/><text x="1360" y="596">NUSAP1</text></g>
<g id="n-KIF18B" class="r"><ellipse cx="1427" cy="597" rx="30.5" ry="13"/><text x="1427" y="597">KIF18B</text></g>
<g id="n-CR1" class="b"><ellipse cx="764" cy="607" rx="30.5" ry="13"/><text x="764" y="607">CR1</text></g>
<g id="n-GNAO1" class="b"><ellipse cx="976" cy="608" rx="30.5" ry="13"/><text x="976" y="608">GNAO1</text></g>
<g id="n-ZFP36" class="b"><ellipse cx="1057" cy="605" rx="30.5" ry="13"/><text x="1057" y="605">ZFP36</text></g>
<g id="n-FOS" class="b"><ellipse cx="1131" cy="617" rx="30.5" ry="13"/><text x="1131" y="617">FOS</text></g>
<g id="n-CDC25C" class="r"><ellipse cx="1200" cy="627" rx="30.5" ry="13"/><text x="1200" y="627">CDC25C</text></g>
<g id="n-RACGAP1" class="r"><ellipse cx="1296" cy="621" rx="30.5" ry="13"/><text x="1296" y="621">RACGAP1</text></g>
<g id="n-BUB1" class="r"><ellipse cx="1390" cy="628" rx="30.5" ry="13"/><text x="1390" y="628">BUB1</text></g>
<g id="n-CKAP2L" class="r"><ellipse cx="1470" cy="628" rx="30.5" ry="13"/><text x="1470" y="628">CKAP2L</text></g>
<g id="n-PZP" class="b"><ellipse cx="626" cy="629" rx="30.5" ry="13"/><text x="626" y="629">PZP</text></g>
<g id="n-GPC3" class="r"><ellipse cx="826" cy="638" rx="30.5" ry="13"/><text x="826" y="638">GPC3</text></g>
<g id="n-HHIP" class="b"><ellipse cx="701" cy="655" rx="30.5" ry="13"/><text x="701" y="655">HHIP</text></g>
<g id="n-FGFR2" class="b"><ellipse cx="987" cy="641" rx="30.5" ry="13"/><text x="987" y="641">FGFR2</text></g>
<g id="n-CAP2" class="r"><ellipse cx="933" cy="656" rx="30.5" ry="13"/><text x="933" y="656">CAP2</text></g>
<g id="n-PRKAA2" class="r"><ellipse cx="1036" cy="655" rx="30.5" ry="13"/><text x="1036" y="655">PRKAA2</text></g>
<g id="n-EGR1" class="b"><ellipse cx="1163" cy="661" rx="30.5" ry="13"/><text x="1163" y="661">EGR1</text></g>
<g id="n-ZWINT" class="r"><ellipse cx="1247" cy="663" rx="30.5" ry="13"/><text x="1247" y="663">ZWINT</text></g>
<g id="n-SKA1" class="r"><ellipse cx="1310" cy="656" rx="30.5" ry="13"/><text x="1310" y="656">SKA1</text></g>
<g id="n-CDKN2B" class="r"><ellipse cx="1378" cy="658" rx="30.5" ry="13"/><text x="1378" y="658">CDKN2B</text></g>
<g id="n-UBE2T" class="r"><ellipse cx="1446" cy="676" rx="30.5" ry="13"/><text x="1446" y="676">UBE2T</text></g>
<g id="n-FANCI" class="r"><ellipse cx="1527" cy="674" rx="30.5" ry="13"/><text x="1527" y="674">FANCI</text></g>
<g id="n-APOF" class="b"><ellipse cx="778" cy="671" rx="30.5" ry="13"/><text x="778" y="671">APOF</text></g>
<g id="n-LPA" class="b"><ellipse cx="895" cy="674" rx="30.5" ry="13"/><text x="895" y="674">LPA</text></g>
<g id="n-IGF1" class="b"><ellipse cx="1081" cy="678" rx="30.5" ry="13"/><text x="1081" y="678">IGF1</text></g>
<g id="n-LPL" class="r"><ellipse cx="945" cy="696" rx="30.5" ry="13"/><text x="945" y="696">LPL</text></g>
<g id="n-CXCL12" class="b"><ellipse cx="1000" cy="690" rx="30.5" ry="13"/><text x="1000" y="690">CXCL12</text></g>
<g id="n-MDK" class="r"><ellipse cx="1248" cy="692" rx="30.5" ry="13"/><text x="1248" y="692">MDK</text></g>
<g id="n-SPC24" class="r"><ellipse cx="1307" cy="693" rx="30.5" ry="13"/><text x="1307" y="693">SPC24</text></g>
<g id="n-NPY1R" class="b"><ellipse cx="1110" cy="700" rx="30.5" ry="13"/><text x="1110" y="700">NPY1R</text></g>
<g id="n-CD4" class="b"><ellipse cx="775" cy="718" rx="30.5" ry="13"/><text x="775" y="718">CD4</text></g>
<g id="n-SOCS3" class="b"><ellipse cx="1160" cy="712" rx="30.5" ry="13"/><text x="1160" y="712">SOCS3</text></g>
<g id="n-ETS2" class="b"><ellipse cx="1208" cy="711" rx="30.5" ry="13"/><text x="1208" y="711">ETS2</text></g>
<g id="n-IQGAP3" class="r"><ellipse cx="1354" cy="716" rx="30.5" ry="13"/><text x="1354" y="716">IQGAP3</text></g>
<g id="n-ROBO1" class="r"><ellipse cx="1045" cy="725" rx="30.5" ry="13"/><text x="1045" y="725">ROBO1</text></g>
<g id="n-FEZ1" class="b"><ellipse cx="1303" cy="731" rx="30.5" ry="13"/><text x="1303" y="731">FEZ1</text></g>
<g id="n-MOGAT2" class="b"><ellipse cx="700" cy="740" rx="30.5" ry="13"/><text x="700" y="740">MOGAT2</text></g>
<g id="n-CETP" class="b"><ellipse cx="840" cy="733" rx="30.5" ry="13"/><text x="840" y="733">CETP</text></g>
<g id="n-CAMK2B" class="b"><ellipse cx="1132" cy="749" rx="30.5" ry="13"/><text x="1132" y="749">CAMK2B</text></g>
<g id="n-GHR" class="b"><ellipse cx="1085" cy="740" rx="30.5" ry="13"/><text x="1085" y="740">GHR</text></g>
<g id="n-RCAN1" class="b"><ellipse cx="1256" cy="766" rx="30.5" ry="13"/><text x="1256" y="766">RCAN1</text></g>
<g id="n-LCAT" class="b"><ellipse cx="784" cy="773" rx="30.5" ry="13"/><text x="784" y="773">LCAT</text></g>
<g id="n-CXCL14" class="b"><ellipse cx="895" cy="764" rx="30.5" ry="13"/><text x="895" y="764">CXCL14</text></g>
<g id="n-PLCB1" class="r"><ellipse cx="985" cy="779" rx="30.5" ry="13"/><text x="985" y="779">PLCB1</text></g>
<g id="n-ENAH" class="r"><ellipse cx="935" cy="775" rx="30.5" ry="13"/><text x="935" y="775">ENAH</text></g>
<g id="n-NGFR" class="b"><ellipse cx="1062" cy="792" rx="30.5" ry="13"/><text x="1062" y="792">NGFR</text></g>
<g id="n-HGF" class="b"><ellipse cx="1107" cy="778" rx="30.5" ry="13"/><text x="1107" y="778">HGF</text></g>
<g id="n-C1RL" class="b"><ellipse cx="711" cy="797" rx="30.5" ry="13"/><text x="711" y="797">C1RL</text></g>
<g id="n-LHX2" class="b"><ellipse cx="1190" cy="796" rx="30.5" ry="13"/><text x="1190" y="796">LHX2</text></g>
<g id="n-IGFBP3" class="b"><ellipse cx="1128" cy="812" rx="30.5" ry="13"/><text x="1128" y="812">IGFBP3</text></g>
<g id="n-TGM3" class="r"><ellipse cx="1244" cy="812" rx="30.5" ry="13"/><text x="1244" y="812">TGM3</text></g>
<g id="n-SHBG" class="b"><ellipse cx="1017" cy="818" rx="30.5" ry="13"/><text x="1017" y="818">SHBG</text></g>
<g id="n-CD163" class="b"><ellipse cx="780" cy="826" rx="30.5" ry="13"/><text x="780" y="826">CD163</text></g>
<g id="n-ITGA6" class="r"><ellipse cx="1350" cy="828" rx="30.5" ry="13"/><text x="1350" y="828">ITGA6</text></g>
<g id="n-CCL23" class="b"><ellipse cx="947" cy="826" rx="30.5" ry="13"/><text x="947" y="826">CCL23</text></g>
<g id="n-PTPRS" class="b"><ellipse cx="839" cy="851" rx="30.5" ry="13"/><text x="839" y="851">PTPRS</text></g>
<g id="n-PTH1R" class="b"><ellipse cx="1077" cy="862" rx="30.5" ry="13"/><text x="1077" y="862">PTH1R</text></g>
<g id="n-HGFAC" class="b"><ellipse cx="1183" cy="881" rx="30.5" ry="13"/><text x="1183" y="881">HGFAC</text></g>
<g id="n-MRC1" class="b"><ellipse cx="779" cy="885" rx="30.5" ry="13"/><text x="779" y="885">MRC1</text></g>
<g id="n-MYO10" class="b"><ellipse cx="867" cy="899" rx="30.5" ry="13"/><text x="867" y="899">MYO10</text></g>
<g id="n-TBXA2R" class="b"><ellipse cx="923" cy="898" rx="30.5" ry="13"/><text x="923" y="898">TBXA2R</text></g>
<g id="n-CHRM3" class="r"><ellipse cx="985" cy="922" rx="30.5" ry="13"/><text x="985" y="922">CHRM3</text></g>
<g id="n-TCF19" class="r"><ellipse cx="1053" cy="921" rx="30.5" ry="13"/><text x="1053" y="921">TCF19</text></g>
<g id="n-ITGA9" class="b"><ellipse cx="1425" cy="914" rx="30.5" ry="13"/><text x="1425" y="914">ITGA9</text></g>
<g id="n-KLKB1" class="b"><ellipse cx="1141" cy="937" rx="30.5" ry="13"/><text x="1141" y="937">KLKB1</text></g>
<g id="n-VIPR1" class="b"><ellipse cx="1063" cy="989" rx="30.5" ry="13"/><text x="1063" y="989">VIPR1</text></g>
<g id="n-PBX1" class="b"><ellipse cx="888" cy="1054" rx="30.5" ry="13"/><text x="888" y="1054">PBX1</text></g>
<g id="n-FREM1" class="b"><ellipse cx="991" cy="1055" rx="30.5" ry="13"/><text x="991" y="1055">FREM1</text></g>
<g id="n-STEAP4" class="b"><ellipse cx="1206" cy="1044" rx="30.5" ry="13"/><text x="1206" y="1044">STEAP4</text></g>
<g id="n-TFPI2" class="b"><ellipse cx="1137" cy="1062" rx="30.5" ry="13"/><text x="1137" y="1062">TFPI2</text></g>
<g id="n-FUT6" class="b"><ellipse cx="1286" cy="1083" rx="30.5" ry="13"/><text x="1286" y="1083">FUT6</text></g>
<g id="n-SMPD3" class="b"><ellipse cx="1384" cy="1076" rx="30.5" ry="13"/><text x="1384" y="1076">SMPD3</text></g>
<g id="n-IGF2BP3" class="r"><ellipse cx="1188" cy="1099" rx="30.5" ry="13"/><text x="1188" y="1099">IGF2BP3</text></g>
<g id="n-HOXA13" class="r"><ellipse cx="917" cy="1114" rx="30.5" ry="13"/><text x="917" y="1114">HOXA13</text></g>
<g id="n-ECM1" class="b"><ellipse cx="1027" cy="1120" rx="30.5" ry="13"/><text x="1027" y="1120">ECM1</text></g>
<g id="n-OBSL1" class="b"><ellipse cx="1219" cy="1175" rx="30.5" ry="13"/><text x="1219" y="1175">OBSL1</text></g>
<g id="n-ST3GAL6" class="r"><ellipse cx="1310" cy="1170" rx="30.5" ry="13"/><text x="1310" y="1170">ST3GAL6</text></g>
<g id="n-SLITRK6" class="b"><ellipse cx="1397" cy="1168" rx="30.5" ry="13"/><text x="1397" y="1168">SLITRK6</text></g>
<g id="n-FREM2" class="b"><ellipse cx="1065" cy="1179" rx="30.5" ry="13"/><text x="1065" y="1179">FREM2</text></g>
<g id="n-ZIC2" class="r"><ellipse cx="950" cy="1185" rx="30.5" ry="13"/><text x="950" y="1185">ZIC2</text></g>
</g>
</g>
</svg>
